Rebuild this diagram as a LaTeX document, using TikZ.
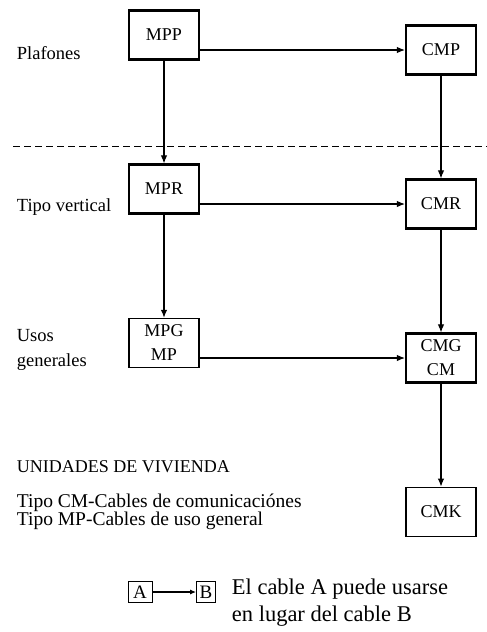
\documentclass[tikz,border=0pt]{standalone}
\usepackage{fontspec}
\setmainfont{Liberation Serif}
\usetikzlibrary{arrows.meta,positioning}

\begin{document}
\begin{tikzpicture}[x=1pt,y=-1pt,->,>={Latex[length=8pt,width=6.5pt]},line width=1.1pt,node distance=154pt,
    cable/.style={rectangle,draw,line width=2.2pt,minimum width=70pt,minimum height=49pt,inner sep=0pt,align=center,font=\fontsize{18}{24}\selectfont},
    etiqueta/.style={anchor=west,align=left,font=\fontsize{18.5}{25}\selectfont},
    leyenda/.style={rectangle,draw,line width=0.9pt,minimum height=21pt,inner sep=0pt,font=\fontsize{19}{21}\selectfont}]

    \useasboundingbox (0,0) rectangle (487,632);

    % columna MP y columna CM
    \node[cable] (MPP) at (164,35) {MPP};
    \node[cable] (MPR) [below of = MPP] {MPR};
    \node[cable, line width=1.5pt] (MPG) [below of = MPR] {MPG\\MP};

    \node[cable] (CMP) at (441,50) {CMP};
    \node[cable] (CMR) [below of = CMP] {CMR};
    \node[cable] (CMG) [below of = CMR] {CMG\\CM};
    \node[cable, line width=1.8pt] (CMK) [below of = CMG] {CMK};

    % etiquetas
    \node[etiqueta] (plafones) at (13,53) {Plafones};
    \node[etiqueta] (vertical) at (13,207) {Tipo vertical};
    \node[etiqueta] (usos) at (13,350) {Usos\\generales};
    \node[etiqueta, font=\fontsize{18}{25}\selectfont] (vivienda) at (13,467) {UNIDADES DE VIVIENDA};
    \node[etiqueta, font=\fontsize{19.5}{18}\selectfont] (tipos) at (13,512)
        {Tipo CM-Cables de comunicaciónes\\Tipo MP-Cables de uso general};

    \coordinate (sepL) at (13,146);
    \coordinate (sepR) at (487,146);
    \draw[-, line width=0.9pt, dash pattern=on 7pt off 4pt] (sepL) -- (sepR);

    \path
        (MPP.east |- CMP) edge (CMP.west)
        (MPR.east |- CMR) edge (CMR.west)
        (MPG.east |- CMG) edge (CMG.west)

        (MPP) edge (MPR)
        (MPR) edge (MPG)

        (CMP) edge (CMR)
        (CMR) edge (CMG)
        (CMG) edge (CMK)
    ;

    % leyenda
    \node[leyenda, minimum width=24pt] (A) at (140,592) {A};
    \node[leyenda, minimum width=19pt] (B) at (206,592) {B};
    \node[etiqueta, font=\fontsize{22.5}{27}\selectfont] (nota) at (228,603)
        {El cable A puede usarse\\en lugar del cable B};
    \path (A) edge[>={Latex[length=6pt,width=5pt]}] (B);
\end{tikzpicture}
\end{document}
